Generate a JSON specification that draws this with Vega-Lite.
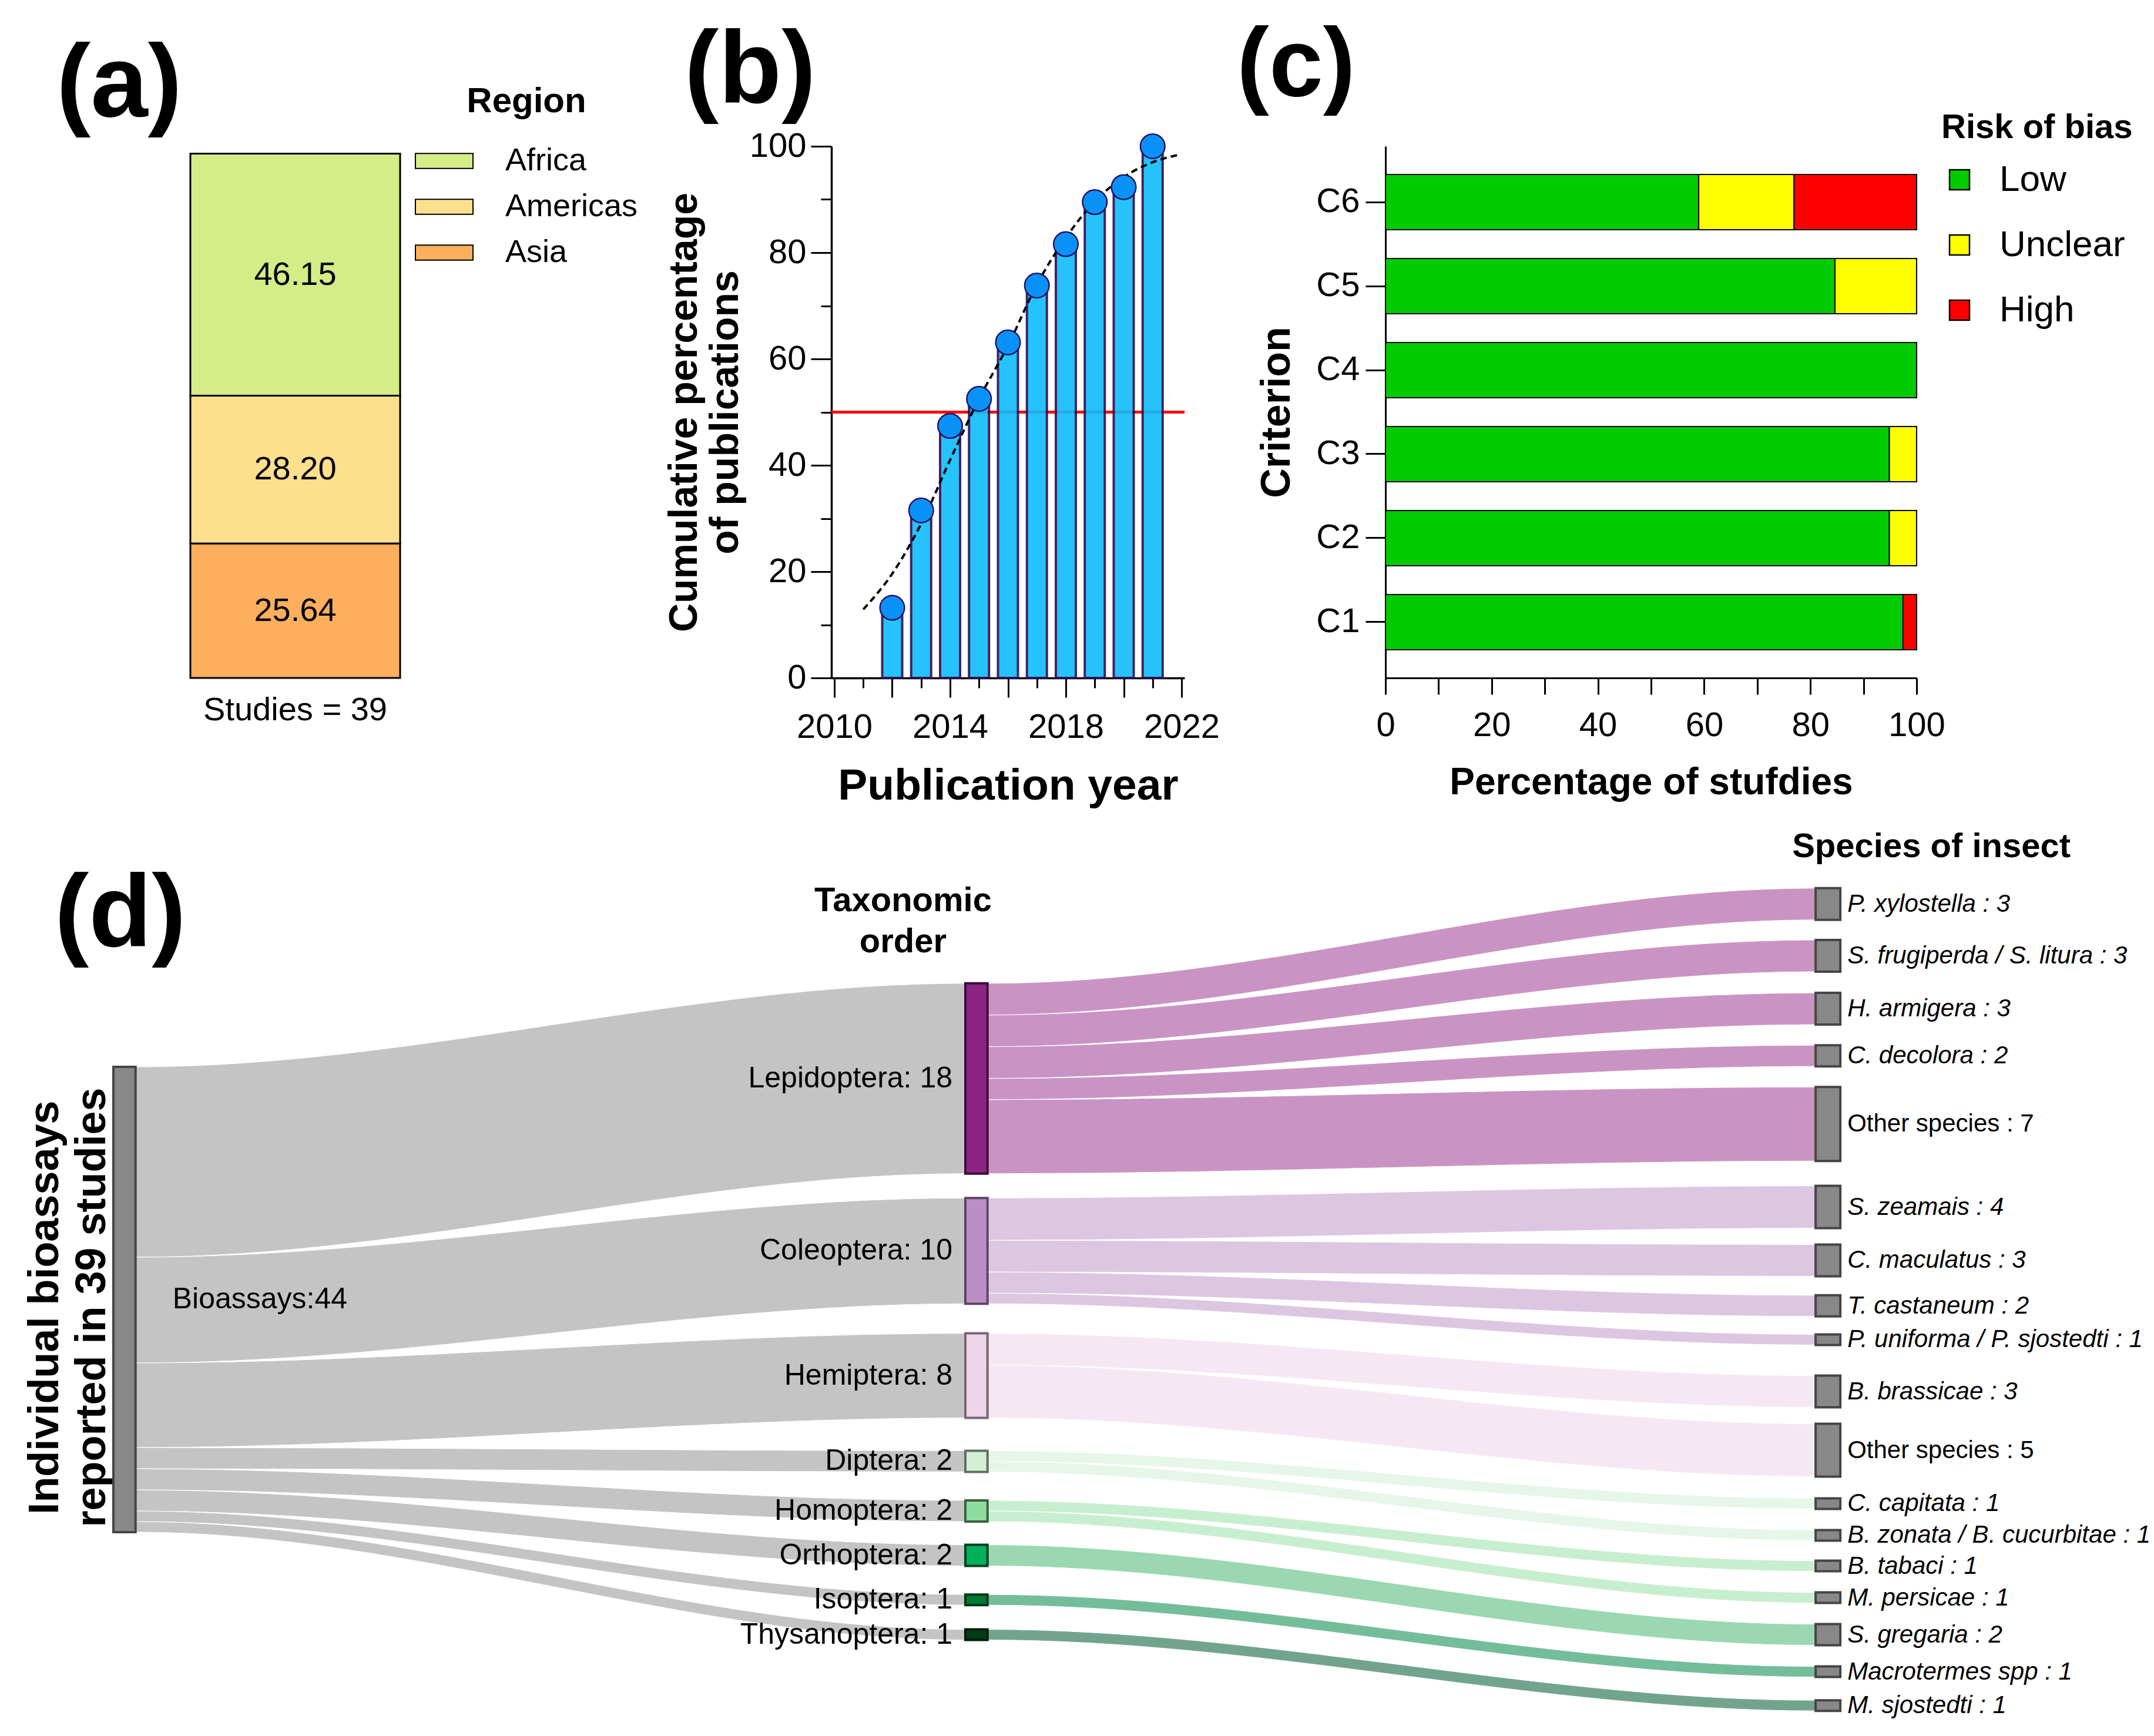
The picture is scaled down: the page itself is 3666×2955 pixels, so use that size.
{
  "$schema": "https://vega.github.io/schema/vega-lite/v6.json",
  "background": "white",
  "padding": {"left": 40, "top": 31, "right": 0, "bottom": 0},
  "bounds": "flush",
  "spacing": 1150,
  "resolve": {"scale": {"color": "independent", "fill": "independent", "stroke": "independent"}, "legend": {"color": "independent", "fill": "independent", "stroke": "independent"}},
  "config": {
    "font": "Liberation Sans",
    "view": {"stroke": null},
    "axis": {"labelColor": "black", "titleColor": "black", "domainColor": "black", "tickColor": "black", "grid": false},
    "legend": {"labelColor": "black", "titleColor": "black", "titleLimit": 0, "labelLimit": 0},
    "title": {"color": "black"},
    "text": {"color": "black"}
  },
  "datasets": {
    "links": [
      {"link": "a1", "stage": 0, "order": "Lepidoptera", "x": 0, "y0": 0, "y1": 18},
      {"link": "a1", "stage": 0, "order": "Lepidoptera", "x": 0.026, "y0": 0, "y1": 18},
      {"link": "a1", "stage": 0, "order": "Lepidoptera", "x": 1, "y0": -7.9, "y1": 10.1},
      {"link": "a1", "stage": 0, "order": "Lepidoptera", "x": 1.026, "y0": -7.9, "y1": 10.1},
      {"link": "a2", "stage": 0, "order": "Coleoptera", "x": 0, "y0": 18, "y1": 28},
      {"link": "a2", "stage": 0, "order": "Coleoptera", "x": 0.026, "y0": 18, "y1": 28},
      {"link": "a2", "stage": 0, "order": "Coleoptera", "x": 1, "y0": 12.4, "y1": 22.4},
      {"link": "a2", "stage": 0, "order": "Coleoptera", "x": 1.026, "y0": 12.4, "y1": 22.4},
      {"link": "a3", "stage": 0, "order": "Hemiptera", "x": 0, "y0": 28, "y1": 36},
      {"link": "a3", "stage": 0, "order": "Hemiptera", "x": 0.026, "y0": 28, "y1": 36},
      {"link": "a3", "stage": 0, "order": "Hemiptera", "x": 1, "y0": 25.2, "y1": 33.2},
      {"link": "a3", "stage": 0, "order": "Hemiptera", "x": 1.026, "y0": 25.2, "y1": 33.2},
      {"link": "a4", "stage": 0, "order": "Diptera", "x": 0, "y0": 36, "y1": 38},
      {"link": "a4", "stage": 0, "order": "Diptera", "x": 0.026, "y0": 36, "y1": 38},
      {"link": "a4", "stage": 0, "order": "Diptera", "x": 1, "y0": 36.3, "y1": 38.3},
      {"link": "a4", "stage": 0, "order": "Diptera", "x": 1.026, "y0": 36.3, "y1": 38.3},
      {"link": "a5", "stage": 0, "order": "Homoptera", "x": 0, "y0": 38, "y1": 40},
      {"link": "a5", "stage": 0, "order": "Homoptera", "x": 0.026, "y0": 38, "y1": 40},
      {"link": "a5", "stage": 0, "order": "Homoptera", "x": 1, "y0": 41, "y1": 43},
      {"link": "a5", "stage": 0, "order": "Homoptera", "x": 1.026, "y0": 41, "y1": 43},
      {"link": "a6", "stage": 0, "order": "Orthoptera", "x": 0, "y0": 40, "y1": 42},
      {"link": "a6", "stage": 0, "order": "Orthoptera", "x": 0.026, "y0": 40, "y1": 42},
      {"link": "a6", "stage": 0, "order": "Orthoptera", "x": 1, "y0": 45.2, "y1": 47.2},
      {"link": "a6", "stage": 0, "order": "Orthoptera", "x": 1.026, "y0": 45.2, "y1": 47.2},
      {"link": "a7", "stage": 0, "order": "Isoptera", "x": 0, "y0": 42, "y1": 43},
      {"link": "a7", "stage": 0, "order": "Isoptera", "x": 0.026, "y0": 42, "y1": 43},
      {"link": "a7", "stage": 0, "order": "Isoptera", "x": 1, "y0": 49.9, "y1": 50.9},
      {"link": "a7", "stage": 0, "order": "Isoptera", "x": 1.026, "y0": 49.9, "y1": 50.9},
      {"link": "a8", "stage": 0, "order": "Thysanoptera", "x": 0, "y0": 43, "y1": 44},
      {"link": "a8", "stage": 0, "order": "Thysanoptera", "x": 0.026, "y0": 43, "y1": 44},
      {"link": "a8", "stage": 0, "order": "Thysanoptera", "x": 1, "y0": 53.2, "y1": 54.2},
      {"link": "a8", "stage": 0, "order": "Thysanoptera", "x": 1.026, "y0": 53.2, "y1": 54.2},
      {"link": "b1", "stage": 1, "order": "Lepidoptera", "x": 1, "y0": -7.9, "y1": -4.9},
      {"link": "b1", "stage": 1, "order": "Lepidoptera", "x": 1.026, "y0": -7.9, "y1": -4.9},
      {"link": "b1", "stage": 1, "order": "Lepidoptera", "x": 1.998, "y0": -16.9, "y1": -13.9},
      {"link": "b1", "stage": 1, "order": "Lepidoptera", "x": 2.027, "y0": -16.9, "y1": -13.9},
      {"link": "b2", "stage": 1, "order": "Lepidoptera", "x": 1, "y0": -4.9, "y1": -1.9},
      {"link": "b2", "stage": 1, "order": "Lepidoptera", "x": 1.026, "y0": -4.9, "y1": -1.9},
      {"link": "b2", "stage": 1, "order": "Lepidoptera", "x": 1.998, "y0": -12, "y1": -9},
      {"link": "b2", "stage": 1, "order": "Lepidoptera", "x": 2.027, "y0": -12, "y1": -9},
      {"link": "b3", "stage": 1, "order": "Lepidoptera", "x": 1, "y0": -1.9, "y1": 1.1},
      {"link": "b3", "stage": 1, "order": "Lepidoptera", "x": 1.026, "y0": -1.9, "y1": 1.1},
      {"link": "b3", "stage": 1, "order": "Lepidoptera", "x": 1.998, "y0": -7, "y1": -4},
      {"link": "b3", "stage": 1, "order": "Lepidoptera", "x": 2.027, "y0": -7, "y1": -4},
      {"link": "b4", "stage": 1, "order": "Lepidoptera", "x": 1, "y0": 1.1, "y1": 3.1},
      {"link": "b4", "stage": 1, "order": "Lepidoptera", "x": 1.026, "y0": 1.1, "y1": 3.1},
      {"link": "b4", "stage": 1, "order": "Lepidoptera", "x": 1.998, "y0": -2.05, "y1": -0.05},
      {"link": "b4", "stage": 1, "order": "Lepidoptera", "x": 2.027, "y0": -2.05, "y1": -0.05},
      {"link": "b5", "stage": 1, "order": "Lepidoptera", "x": 1, "y0": 3.1, "y1": 10.1},
      {"link": "b5", "stage": 1, "order": "Lepidoptera", "x": 1.026, "y0": 3.1, "y1": 10.1},
      {"link": "b5", "stage": 1, "order": "Lepidoptera", "x": 1.998, "y0": 1.9, "y1": 8.9},
      {"link": "b5", "stage": 1, "order": "Lepidoptera", "x": 2.027, "y0": 1.9, "y1": 8.9},
      {"link": "b6", "stage": 1, "order": "Coleoptera", "x": 1, "y0": 12.4, "y1": 16.4},
      {"link": "b6", "stage": 1, "order": "Coleoptera", "x": 1.026, "y0": 12.4, "y1": 16.4},
      {"link": "b6", "stage": 1, "order": "Coleoptera", "x": 1.998, "y0": 11.25, "y1": 15.25},
      {"link": "b6", "stage": 1, "order": "Coleoptera", "x": 2.027, "y0": 11.25, "y1": 15.25},
      {"link": "b7", "stage": 1, "order": "Coleoptera", "x": 1, "y0": 16.4, "y1": 19.4},
      {"link": "b7", "stage": 1, "order": "Coleoptera", "x": 1.026, "y0": 16.4, "y1": 19.4},
      {"link": "b7", "stage": 1, "order": "Coleoptera", "x": 1.998, "y0": 16.8, "y1": 19.8},
      {"link": "b7", "stage": 1, "order": "Coleoptera", "x": 2.027, "y0": 16.8, "y1": 19.8},
      {"link": "b8", "stage": 1, "order": "Coleoptera", "x": 1, "y0": 19.4, "y1": 21.4},
      {"link": "b8", "stage": 1, "order": "Coleoptera", "x": 1.026, "y0": 19.4, "y1": 21.4},
      {"link": "b8", "stage": 1, "order": "Coleoptera", "x": 1.998, "y0": 21.6, "y1": 23.6},
      {"link": "b8", "stage": 1, "order": "Coleoptera", "x": 2.027, "y0": 21.6, "y1": 23.6},
      {"link": "b9", "stage": 1, "order": "Coleoptera", "x": 1, "y0": 21.4, "y1": 22.4},
      {"link": "b9", "stage": 1, "order": "Coleoptera", "x": 1.026, "y0": 21.4, "y1": 22.4},
      {"link": "b9", "stage": 1, "order": "Coleoptera", "x": 1.998, "y0": 25.3, "y1": 26.3},
      {"link": "b9", "stage": 1, "order": "Coleoptera", "x": 2.027, "y0": 25.3, "y1": 26.3},
      {"link": "b10", "stage": 1, "order": "Hemiptera", "x": 1, "y0": 25.2, "y1": 28.2},
      {"link": "b10", "stage": 1, "order": "Hemiptera", "x": 1.026, "y0": 25.2, "y1": 28.2},
      {"link": "b10", "stage": 1, "order": "Hemiptera", "x": 1.998, "y0": 29.2, "y1": 32.2},
      {"link": "b10", "stage": 1, "order": "Hemiptera", "x": 2.027, "y0": 29.2, "y1": 32.2},
      {"link": "b11", "stage": 1, "order": "Hemiptera", "x": 1, "y0": 28.2, "y1": 33.2},
      {"link": "b11", "stage": 1, "order": "Hemiptera", "x": 1.026, "y0": 28.2, "y1": 33.2},
      {"link": "b11", "stage": 1, "order": "Hemiptera", "x": 1.998, "y0": 33.75, "y1": 38.75},
      {"link": "b11", "stage": 1, "order": "Hemiptera", "x": 2.027, "y0": 33.75, "y1": 38.75},
      {"link": "b12", "stage": 1, "order": "Diptera", "x": 1, "y0": 36.3, "y1": 37.3},
      {"link": "b12", "stage": 1, "order": "Diptera", "x": 1.026, "y0": 36.3, "y1": 37.3},
      {"link": "b12", "stage": 1, "order": "Diptera", "x": 1.998, "y0": 40.8, "y1": 41.8},
      {"link": "b12", "stage": 1, "order": "Diptera", "x": 2.027, "y0": 40.8, "y1": 41.8},
      {"link": "b13", "stage": 1, "order": "Diptera", "x": 1, "y0": 37.3, "y1": 38.3},
      {"link": "b13", "stage": 1, "order": "Diptera", "x": 1.026, "y0": 37.3, "y1": 38.3},
      {"link": "b13", "stage": 1, "order": "Diptera", "x": 1.998, "y0": 43.8, "y1": 44.8},
      {"link": "b13", "stage": 1, "order": "Diptera", "x": 2.027, "y0": 43.8, "y1": 44.8},
      {"link": "b14", "stage": 1, "order": "Homoptera", "x": 1, "y0": 41, "y1": 42},
      {"link": "b14", "stage": 1, "order": "Homoptera", "x": 1.026, "y0": 41, "y1": 42},
      {"link": "b14", "stage": 1, "order": "Homoptera", "x": 1.998, "y0": 46.7, "y1": 47.7},
      {"link": "b14", "stage": 1, "order": "Homoptera", "x": 2.027, "y0": 46.7, "y1": 47.7},
      {"link": "b15", "stage": 1, "order": "Homoptera", "x": 1, "y0": 42, "y1": 43},
      {"link": "b15", "stage": 1, "order": "Homoptera", "x": 1.026, "y0": 42, "y1": 43},
      {"link": "b15", "stage": 1, "order": "Homoptera", "x": 1.998, "y0": 49.7, "y1": 50.7},
      {"link": "b15", "stage": 1, "order": "Homoptera", "x": 2.027, "y0": 49.7, "y1": 50.7},
      {"link": "b16", "stage": 1, "order": "Orthoptera", "x": 1, "y0": 45.2, "y1": 47.2},
      {"link": "b16", "stage": 1, "order": "Orthoptera", "x": 1.026, "y0": 45.2, "y1": 47.2},
      {"link": "b16", "stage": 1, "order": "Orthoptera", "x": 1.998, "y0": 52.7, "y1": 54.7},
      {"link": "b16", "stage": 1, "order": "Orthoptera", "x": 2.027, "y0": 52.7, "y1": 54.7},
      {"link": "b17", "stage": 1, "order": "Isoptera", "x": 1, "y0": 49.9, "y1": 50.9},
      {"link": "b17", "stage": 1, "order": "Isoptera", "x": 1.026, "y0": 49.9, "y1": 50.9},
      {"link": "b17", "stage": 1, "order": "Isoptera", "x": 1.998, "y0": 56.7, "y1": 57.7},
      {"link": "b17", "stage": 1, "order": "Isoptera", "x": 2.027, "y0": 56.7, "y1": 57.7},
      {"link": "b18", "stage": 1, "order": "Thysanoptera", "x": 1, "y0": 53.2, "y1": 54.2},
      {"link": "b18", "stage": 1, "order": "Thysanoptera", "x": 1.026, "y0": 53.2, "y1": 54.2},
      {"link": "b18", "stage": 1, "order": "Thysanoptera", "x": 1.998, "y0": 59.9, "y1": 60.9},
      {"link": "b18", "stage": 1, "order": "Thysanoptera", "x": 2.027, "y0": 59.9, "y1": 60.9}
    ],
    "nodes": [
      {"label": "Bioassays:44", "stage": 0, "column": "", "group": "Bioassays", "x0": 0, "x1": 0.026, "y0": 0, "y1": 44, "yc": 22},
      {"label": "Lepidoptera: 18", "stage": 1, "column": "Taxonomic\norder", "group": "Lepidoptera", "x0": 1, "x1": 1.026, "y0": -7.9, "y1": 10.1, "yc": 1.1},
      {"label": "Coleoptera: 10", "stage": 1, "column": "Taxonomic\norder", "group": "Coleoptera", "x0": 1, "x1": 1.026, "y0": 12.4, "y1": 22.4, "yc": 17.4},
      {"label": "Hemiptera: 8", "stage": 1, "column": "Taxonomic\norder", "group": "Hemiptera", "x0": 1, "x1": 1.026, "y0": 25.2, "y1": 33.2, "yc": 29.2},
      {"label": "Diptera: 2", "stage": 1, "column": "Taxonomic\norder", "group": "Diptera", "x0": 1, "x1": 1.026, "y0": 36.3, "y1": 38.3, "yc": 37.3},
      {"label": "Homoptera: 2", "stage": 1, "column": "Taxonomic\norder", "group": "Homoptera", "x0": 1, "x1": 1.026, "y0": 41, "y1": 43, "yc": 42},
      {"label": "Orthoptera: 2", "stage": 1, "column": "Taxonomic\norder", "group": "Orthoptera", "x0": 1, "x1": 1.026, "y0": 45.2, "y1": 47.2, "yc": 46.2},
      {"label": "Isoptera: 1", "stage": 1, "column": "Taxonomic\norder", "group": "Isoptera", "x0": 1, "x1": 1.026, "y0": 49.9, "y1": 50.9, "yc": 50.4},
      {"label": "Thysanoptera: 1", "stage": 1, "column": "Taxonomic\norder", "group": "Thysanoptera", "x0": 1, "x1": 1.026, "y0": 53.2, "y1": 54.2, "yc": 53.7},
      {"label": "P. xylostella : 3", "stage": 2, "column": "Species of insect", "group": "Species", "x0": 1.998, "x1": 2.027, "y0": -16.9, "y1": -13.9, "yc": -15.4},
      {"label": "S. frugiperda / S. litura : 3", "stage": 2, "column": "Species of insect", "group": "Species", "x0": 1.998, "x1": 2.027, "y0": -12, "y1": -9, "yc": -10.5},
      {"label": "H. armigera : 3", "stage": 2, "column": "Species of insect", "group": "Species", "x0": 1.998, "x1": 2.027, "y0": -7, "y1": -4, "yc": -5.5},
      {"label": "C. decolora  : 2", "stage": 2, "column": "Species of insect", "group": "Species", "x0": 1.998, "x1": 2.027, "y0": -2.05, "y1": -0.05, "yc": -1.05},
      {"label": "Other species : 7", "stage": 2, "column": "Species of insect", "group": "Species", "x0": 1.998, "x1": 2.027, "y0": 1.9, "y1": 8.9, "yc": 5.4},
      {"label": "S. zeamais  : 4", "stage": 2, "column": "Species of insect", "group": "Species", "x0": 1.998, "x1": 2.027, "y0": 11.25, "y1": 15.25, "yc": 13.25},
      {"label": "C. maculatus : 3", "stage": 2, "column": "Species of insect", "group": "Species", "x0": 1.998, "x1": 2.027, "y0": 16.8, "y1": 19.8, "yc": 18.3},
      {"label": "T. castaneum : 2", "stage": 2, "column": "Species of insect", "group": "Species", "x0": 1.998, "x1": 2.027, "y0": 21.6, "y1": 23.6, "yc": 22.6},
      {"label": "P. uniforma / P. sjostedti : 1", "stage": 2, "column": "Species of insect", "group": "Species", "x0": 1.998, "x1": 2.027, "y0": 25.3, "y1": 26.3, "yc": 25.8},
      {"label": "B. brassicae : 3", "stage": 2, "column": "Species of insect", "group": "Species", "x0": 1.998, "x1": 2.027, "y0": 29.2, "y1": 32.2, "yc": 30.7},
      {"label": "Other species : 5", "stage": 2, "column": "Species of insect", "group": "Species", "x0": 1.998, "x1": 2.027, "y0": 33.75, "y1": 38.75, "yc": 36.25},
      {"label": "C. capitata : 1", "stage": 2, "column": "Species of insect", "group": "Species", "x0": 1.998, "x1": 2.027, "y0": 40.8, "y1": 41.8, "yc": 41.3},
      {"label": "B. zonata / B. cucurbitae : 1", "stage": 2, "column": "Species of insect", "group": "Species", "x0": 1.998, "x1": 2.027, "y0": 43.8, "y1": 44.8, "yc": 44.3},
      {"label": "B. tabaci : 1", "stage": 2, "column": "Species of insect", "group": "Species", "x0": 1.998, "x1": 2.027, "y0": 46.7, "y1": 47.7, "yc": 47.2},
      {"label": "M. persicae : 1", "stage": 2, "column": "Species of insect", "group": "Species", "x0": 1.998, "x1": 2.027, "y0": 49.7, "y1": 50.7, "yc": 50.2},
      {"label": "S. gregaria : 2", "stage": 2, "column": "Species of insect", "group": "Species", "x0": 1.998, "x1": 2.027, "y0": 52.7, "y1": 54.7, "yc": 53.7},
      {"label": "Macrotermes spp : 1", "stage": 2, "column": "Species of insect", "group": "Species", "x0": 1.998, "x1": 2.027, "y0": 56.7, "y1": 57.7, "yc": 57.2},
      {"label": "M. sjostedti : 1", "stage": 2, "column": "Species of insect", "group": "Species", "x0": 1.998, "x1": 2.027, "y0": 59.9, "y1": 60.9, "yc": 60.4}
    ]
  },
  "vconcat": [
    {
      "bounds": "flush",
      "spacing": 342,
      "resolve": {"scale": {"color": "independent"}, "legend": {"color": "independent"}},
      "hconcat": [
        {
          "width": 868,
          "height": 905,
          "title": {"text": "(a)", "anchor": "start", "frame": "group", "fontSize": 175, "fontWeight": "bold", "baseline": "bottom", "offset": 0, "dx": -109, "dy": 266},
          "data": {"values": [
            {"region": "Africa", "pct": 46.15, "label": "Studies = 39"},
            {"region": "Americas", "pct": 28.20, "label": "Studies = 39"},
            {"region": "Asia", "pct": 25.64, "label": "Studies = 39"}
          ]},
          "encoding": {
            "x": {"field": "label", "type": "nominal", "scale": {"range": [119, 476], "paddingInner": 0, "paddingOuter": 0},
                  "axis": {"title": null, "labelAngle": 0, "ticks": false, "domain": false, "labelFontSize": 56, "labelPadding": 27, "labelLimit": 0}},
            "order": {"field": "region", "sort": "descending"}
          },
          "layer": [
            {
              "mark": {"type": "bar", "stroke": "black", "strokeWidth": 3},
              "encoding": {
                "y": {"field": "pct", "type": "quantitative", "stack": "zero", "scale": {"domain": [0, 101.4], "nice": false}, "axis": null},
                "color": {"field": "region", "type": "nominal",
                  "scale": {"domain": ["Africa", "Americas", "Asia"], "range": ["#d4ed87", "#fde08e", "#fdaf5e"]},
                  "legend": {"orient": "none", "legendX": 501, "legendY": -105, "title": "Region", "titleFontSize": 60, "titleFontWeight": "bold", "titleAnchor": "middle", "titlePadding": 20,
                    "labelFontSize": 54, "labelOffset": 54, "rowPadding": 1, "symbolType": "M-1,-0.26H1V0.26H-1Z", "symbolSize": 9604, "symbolStrokeColor": "black", "symbolStrokeWidth": 2, "symbolOpacity": 1}}
              }
            },
            {
              "mark": {"type": "text", "fontSize": 56, "color": "black"},
              "encoding": {
                "y": {"field": "pct", "type": "quantitative", "stack": "zero", "bandPosition": 0.5, "scale": {"domain": [0, 101.4], "nice": false}, "axis": null},
                "detail": {"field": "region"},
                "text": {"field": "pct", "type": "quantitative", "format": ".2f"}
              }
            }
          ]
        },
        {
          "width": 601,
          "height": 905,
          "title": {"text": "(b)", "anchor": "start", "frame": "group", "fontSize": 175, "fontWeight": "bold", "baseline": "bottom", "offset": 0, "dx": -250, "dy": 167},
          "data": {"values": [
            {"year": 2012, "pct": 13.2}, {"year": 2013, "pct": 31.5}, {"year": 2014, "pct": 47.4},
            {"year": 2015, "pct": 52.5}, {"year": 2016, "pct": 63.1}, {"year": 2017, "pct": 73.8},
            {"year": 2018, "pct": 81.6}, {"year": 2019, "pct": 89.5}, {"year": 2020, "pct": 92.3},
            {"year": 2021, "pct": 100}
          ]},
          "resolve": {"axis": {"x": "independent", "y": "independent"}},
          "layer": [
            {
              "mark": {"type": "rule", "color": "#ff0000", "strokeWidth": 3.5},
              "encoding": {"y": {"datum": 50, "type": "quantitative", "axis": null}}
            },
            {
              "mark": {"type": "bar", "width": 34, "color": "#0fbcfc", "stroke": "#2c0c52", "strokeWidth": 4, "opacity": 0.9},
              "encoding": {
                "x": {"field": "year", "type": "quantitative", "scale": {"domain": [2010, 2022], "nice": false, "zero": false},
                  "axis": {"values": [2010, 2012, 2014, 2016, 2018, 2020, 2022], "format": "d", "labelExpr": "datum.value % 4 == 2 ? datum.label : ''", "labelOverlap": false, "labelFlush": false,
                    "tickSize": 33, "tickWidth": 3, "domainWidth": 3.5, "labelFontSize": 58, "labelPadding": 22,
                    "title": "Publication year", "titleFontSize": 75, "titleFontWeight": "bold", "titlePadding": 34}},
                "y": {"field": "pct", "type": "quantitative", "scale": {"domain": [0, 100], "nice": false},
                  "axis": {"values": [0, 20, 40, 60, 80, 100], "tickSize": 35, "tickWidth": 3, "domainWidth": 3.5, "labelFontSize": 58, "labelPadding": 8,
                    "title": ["Cumulative percentage", "of publications"], "titleFontSize": 68, "titleFontWeight": "bold", "titlePadding": 6, "titleLineHeight": 70}}
              }
            },
            {
              "data": {"values": [
                {"year": 2011, "fit": 12.9}, {"year": 2012, "fit": 19.6}, {"year": 2013, "fit": 29},
                {"year": 2014, "fit": 41}, {"year": 2015, "fit": 52.5}, {"year": 2016, "fit": 62.5},
                {"year": 2017, "fit": 74}, {"year": 2018, "fit": 82.8}, {"year": 2019, "fit": 89.6},
                {"year": 2020, "fit": 94.2}, {"year": 2021, "fit": 97}, {"year": 2021.9, "fit": 98.4}
              ]},
              "mark": {"type": "line", "color": "black", "strokeWidth": 4, "strokeDash": [11, 7], "interpolate": "monotone"},
              "encoding": {
                "x": {"field": "year", "type": "quantitative", "axis": null},
                "y": {"field": "fit", "type": "quantitative", "axis": null}
              }
            },
            {
              "mark": {"type": "circle", "size": 1735, "color": "#0892f8", "stroke": "#2a1060", "strokeWidth": 2.5, "opacity": 1},
              "encoding": {
                "x": {"field": "year", "type": "quantitative",
                  "axis": {"values": [2011, 2013, 2015, 2017, 2019, 2021], "orient": "bottom", "tickSize": 17, "tickWidth": 3, "labels": false, "domain": false, "title": null}},
                "y": {"field": "pct", "type": "quantitative",
                  "axis": {"values": [10, 30, 50, 70, 90], "orient": "left", "tickSize": 18, "tickWidth": 3, "labels": false, "domain": false, "title": null}}
              }
            }
          ]
        },
        {
          "width": 904,
          "height": 905,
          "title": {"text": "(c)", "anchor": "start", "frame": "group", "fontSize": 165, "fontWeight": "bold", "baseline": "bottom", "offset": 0, "dx": -253, "dy": 174},
          "data": {"values": [
            {"criterion": "C6", "risk": "Low", "level": 1, "pct": 58.97},
            {"criterion": "C6", "risk": "Unclear", "level": 2, "pct": 17.95},
            {"criterion": "C6", "risk": "High", "level": 3, "pct": 23.08},
            {"criterion": "C5", "risk": "Low", "level": 1, "pct": 84.62},
            {"criterion": "C5", "risk": "Unclear", "level": 2, "pct": 15.38},
            {"criterion": "C4", "risk": "Low", "level": 1, "pct": 100},
            {"criterion": "C3", "risk": "Low", "level": 1, "pct": 94.87},
            {"criterion": "C3", "risk": "Unclear", "level": 2, "pct": 5.13},
            {"criterion": "C2", "risk": "Low", "level": 1, "pct": 94.87},
            {"criterion": "C2", "risk": "Unclear", "level": 2, "pct": 5.13},
            {"criterion": "C1", "risk": "Low", "level": 1, "pct": 97.44},
            {"criterion": "C1", "risk": "High", "level": 3, "pct": 2.56}
          ]},
          "mark": {"type": "bar", "stroke": "black", "strokeWidth": 2},
          "encoding": {
            "y": {"field": "criterion", "type": "nominal", "sort": "descending", "scale": {"paddingInner": 0.342, "paddingOuter": 0.336},
              "axis": {"title": "Criterion", "titleFontSize": 70, "titleFontWeight": "bold", "labelFontSize": 58,
                "tickSize": 34, "tickWidth": 3, "domainWidth": 3, "labelPadding": 10, "titlePadding": 30}},
            "x": {"field": "pct", "type": "quantitative", "stack": "zero", "scale": {"domain": [0, 100], "nice": false},
              "axis": {"values": [0, 10, 20, 30, 40, 50, 60, 70, 80, 90, 100], "labelExpr": "datum.value % 20 == 0 ? datum.label : ''", "labelOverlap": false, "labelFlush": false,
                "tickSize": 28, "tickWidth": 3, "domainWidth": 3, "labelFontSize": 58, "labelPadding": 24,
                "title": "Percentage of stufdies", "titleFontSize": 64, "titleFontWeight": "bold", "titlePadding": 36}},
            "color": {"field": "risk", "type": "nominal",
              "scale": {"domain": ["Low", "Unclear", "High"], "range": ["#00cc00", "#ffff00", "#ff0000"]},
              "legend": {"orient": "none", "legendX": 946, "legendY": -60, "title": "Risk of bias", "titleFontSize": 58, "titleFontWeight": "bold", "titlePadding": 28,
                "labelFontSize": 62, "labelOffset": 37, "rowPadding": 49,
                "symbolType": "square", "symbolSize": 1156, "symbolStrokeColor": "black", "symbolStrokeWidth": 2.5, "symbolOpacity": 1}},
            "order": {"field": "level", "type": "quantitative"}
          }
        }
      ]
    },
    {
      "width": 3462,
      "height": 1540,
      "title": {"text": "(d)", "anchor": "start", "frame": "group", "fontSize": 175, "fontWeight": "bold", "baseline": "bottom", "offset": 0, "dx": -112, "dy": 424},
      "resolve": {"axis": {"x": "independent", "y": "independent"}},
      "layer": [
        {
          "data": {"name": "links"},
          "transform": [{"filter": "datum.stage == 0"}],
          "mark": {"type": "area", "interpolate": "monotone", "color": "#c4c4c4", "stroke": "white", "strokeWidth": 1},
          "encoding": {
            "x": {"field": "x", "type": "quantitative", "scale": {"domain": [0.00828, 2.39586], "nice": false, "zero": false}, "axis": null},
            "y": {"field": "y0", "type": "quantitative", "stack": null, "scale": {"domain": [-23.17, 62.39], "reverse": true, "nice": false, "zero": false},
              "axis": {"title": ["Individual bioassays", "reported in 39 studies"], "titleFontSize": 72, "titleFontWeight": "bold", "titleLineHeight": 80, "titlePadding": 12, "titleY": 826,
                "labels": false, "ticks": false, "domain": false, "grid": false}},
            "y2": {"field": "y1"},
            "detail": {"field": "link"}
          }
        },
        {
          "data": {"name": "links"},
          "transform": [{"filter": "datum.stage == 1"}],
          "mark": {"type": "area", "interpolate": "monotone", "stroke": "white", "strokeWidth": 1},
          "encoding": {
            "x": {"field": "x", "type": "quantitative", "axis": null},
            "y": {"field": "y0", "type": "quantitative", "stack": null, "axis": null},
            "y2": {"field": "y1"},
            "detail": {"field": "link"},
            "color": {"field": "order", "type": "nominal", "legend": null,
              "scale": {"domain": ["Lepidoptera", "Coleoptera", "Hemiptera", "Diptera", "Homoptera", "Orthoptera", "Isoptera", "Thysanoptera"],
                "range": ["#c994c3", "#ddc6e2", "#f6e8f3", "#e6f6e8", "#c8eed0", "#9bd8b1", "#74bd9b", "#72a48d"]}}
          }
        },
        {
          "data": {"name": "nodes"},
          "mark": {"type": "rect", "strokeWidth": 4},
          "encoding": {
            "x": {"field": "x0", "type": "quantitative", "axis": null},
            "x2": {"field": "x1"},
            "y": {"field": "y0", "type": "quantitative", "axis": null},
            "y2": {"field": "y1"},
            "fill": {"field": "group", "type": "nominal", "legend": null,
              "scale": {"domain": ["Bioassays", "Lepidoptera", "Coleoptera", "Hemiptera", "Diptera", "Homoptera", "Orthoptera", "Isoptera", "Thysanoptera", "Species"],
                "range": ["#888888", "#8b2483", "#bc8fc4", "#efd4ea", "#d5efd6", "#8edc9e", "#00b05a", "#007a30", "#003c14", "#888888"]}},
            "stroke": {"field": "group", "type": "nominal", "legend": null,
              "scale": {"domain": ["Bioassays", "Lepidoptera", "Coleoptera", "Hemiptera", "Diptera", "Homoptera", "Orthoptera", "Isoptera", "Thysanoptera", "Species"],
                "range": ["#454545", "#3d0d3a", "#5e4566", "#776673", "#607060", "#3b6040", "#004020", "#003515", "#001a08", "#454545"]}}
          }
        },
        {
          "data": {"name": "nodes"},
          "transform": [{"filter": "datum.stage == 0"}],
          "mark": {"type": "text", "align": "left", "baseline": "middle", "dx": 63, "fontSize": 50},
          "encoding": {
            "x": {"field": "x1", "type": "quantitative", "axis": null},
            "y": {"field": "yc", "type": "quantitative", "axis": null},
            "text": {"field": "label"}
          }
        },
        {
          "data": {"name": "nodes"},
          "transform": [{"filter": "datum.stage == 1"}],
          "mark": {"type": "text", "align": "right", "baseline": "middle", "dx": -22, "fontSize": 50},
          "encoding": {
            "x": {"field": "x0", "type": "quantitative", "axis": null},
            "y": {"field": "yc", "type": "quantitative", "axis": null},
            "text": {"field": "label"}
          }
        },
        {
          "data": {"name": "nodes"},
          "transform": [{"filter": "datum.stage == 2 && indexof(datum.label, 'Other') < 0"}],
          "mark": {"type": "text", "align": "left", "baseline": "middle", "dx": 12, "fontSize": 42, "fontStyle": "italic"},
          "encoding": {
            "x": {"field": "x1", "type": "quantitative", "axis": null},
            "y": {"field": "yc", "type": "quantitative", "axis": null},
            "text": {"field": "label"}
          }
        },
        {
          "data": {"name": "nodes"},
          "transform": [{"filter": "datum.stage == 2 && indexof(datum.label, 'Other') == 0"}],
          "mark": {"type": "text", "align": "left", "baseline": "middle", "dx": 12, "fontSize": 42},
          "encoding": {
            "x": {"field": "x1", "type": "quantitative", "axis": null},
            "y": {"field": "yc", "type": "quantitative", "axis": null},
            "text": {"field": "label"}
          }
        },
        {
          "data": {"name": "nodes"},
          "transform": [
            {"filter": "datum.stage == 1"},
            {"aggregate": [{"op": "min", "field": "y0", "as": "top"}, {"op": "min", "field": "x0", "as": "left"}], "groupby": ["column"]}
          ],
          "mark": {"type": "text", "align": "center", "baseline": "bottom", "dx": -106, "dy": -111, "lineBreak": "\n", "lineHeight": 70, "fontSize": 58, "fontWeight": "bold"},
          "encoding": {
            "x": {"field": "left", "type": "quantitative", "axis": null},
            "y": {"field": "top", "type": "quantitative", "axis": null},
            "text": {"field": "column"}
          }
        },
        {
          "data": {"name": "nodes"},
          "transform": [
            {"filter": "datum.stage == 2"},
            {"aggregate": [{"op": "min", "field": "y0", "as": "top"}, {"op": "min", "field": "x0", "as": "left"}], "groupby": ["column"]}
          ],
          "mark": {"type": "text", "align": "center", "baseline": "bottom", "dx": 197, "dy": -41, "fontSize": 58, "fontWeight": "bold"},
          "encoding": {
            "x": {"field": "left", "type": "quantitative", "axis": null},
            "y": {"field": "top", "type": "quantitative", "axis": null},
            "text": {"field": "column"}
          }
        }
      ]
    }
  ]
}
